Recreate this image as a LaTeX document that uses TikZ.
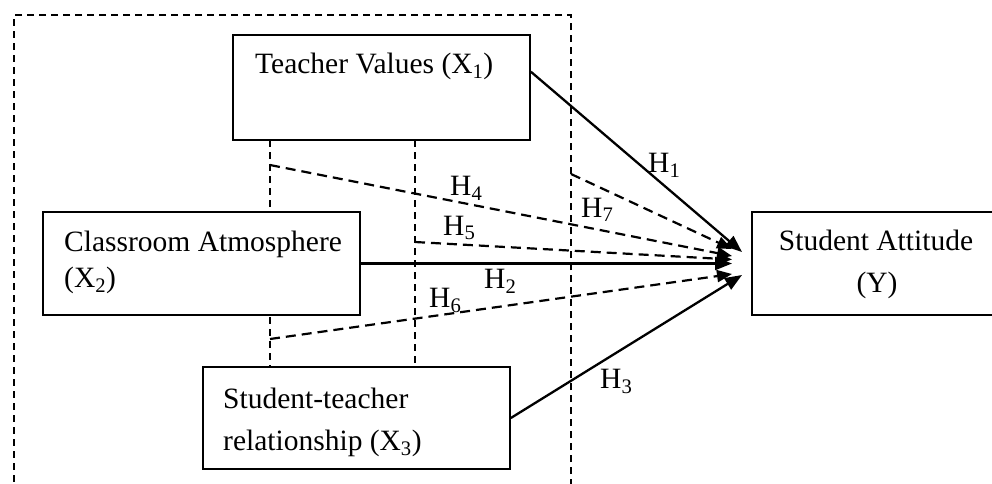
\documentclass[tikz,border=0pt]{standalone}
\usepackage{fontspec}
\setmainfont{Liberation Serif}
\usetikzlibrary{arrows.meta,calc}
\begin{document}
\begin{tikzpicture}[x=1pt,y=-1pt,
  box/.style={draw, line width=1.7pt, inner sep=0pt, fill=white},
  grpbox/.style={draw, line width=1.2pt, dash pattern=on 7pt off 5pt, inner sep=0pt},
  txt/.style={font=\fontsize{29.5}{34}\selectfont, inner sep=0pt, anchor=base west},
  lbl/.style={font=\fontsize{29.5}{34}\selectfont, inner sep=0pt, anchor=base west},
  solidarrow/.style={line width=2.3pt, -{Triangle[length=17pt,width=13pt]}},
  dasharrow/.style={line width=2.2pt, dash pattern=on 10pt off 6pt, -{Triangle[length=15pt,width=12pt]}},
  vline/.style={line width=1.2pt, dash pattern=on 7pt off 5pt}]
\useasboundingbox (0,0) rectangle (992,483);

% outer dashed frame
\node[grpbox, minimum width=557pt, minimum height=490pt] (grp) at (292.5,260) {};

% vertical dashed lines
\coordinate (v1a) at (270,140);
\coordinate (v1b) at (270,209);
\coordinate (v1c) at (270,305);
\coordinate (v1d) at (270,367);
\coordinate (v2a) at (415,140);
\coordinate (v2b) at (415,367);
\draw[vline] (v1a) -- (v1b);
\draw[vline] (v1c) -- (v1d);
\draw[vline] (v2a) -- (v2b);

% boxes
\node[box, minimum width=297pt, minimum height=105pt] (tv) at (381.5,87.5) {};
\node[box, minimum width=317pt, minimum height=103pt] (ca) at (201.5,263.5) {};
\node[box, minimum width=307pt, minimum height=102pt] (st) at (356.5,418) {};
\node[box, minimum width=248pt, minimum height=103pt] (sa) at (876,263.5) {};

% box texts
\node[txt] (tvt) at (255,73) {Teacher Values (X\textsubscript{1})};
\node[txt] (cat1) at (64,251) {Classroom Atmosphere};
\node[txt] (cat2) at (64,287) {(X\textsubscript{2})};
\node[txt] (stt1) at (223,408) {Student-teacher};
\node[txt] (stt2) at (223,450) {relationship (X\textsubscript{3})};
\node[txt, anchor=base] (sat1) at (876,250) {Student Attitude};
\node[txt, anchor=base] (sat2) at (877,292) {(Y)};

% start and end points
\coordinate (h1s) at ($(tv.north east)!0.352!(tv.south east)$);
\coordinate (h4s) at (270,165);
\coordinate (h5s) at (415,242);
\coordinate (h6s) at (270,339);
\coordinate (h7s) at (571,174);
\coordinate (t1) at (742,252);
\coordinate (t7) at (732,249);
\coordinate (t4) at (732,256);
\coordinate (t5) at (732,259.5);
\coordinate (t2) at (732,263.5);
\coordinate (t6) at (732,274);
\coordinate (t3) at (742,275);

% connectors
\draw[solidarrow] (h1s) -- (t1);
\draw[solidarrow] (ca.east) -- (t2);
\draw[solidarrow] (st.east) -- (t3);
\draw[dasharrow] (h4s) -- (t4);
\draw[dasharrow] (h5s) -- (t5);
\draw[dasharrow] (h6s) -- (t6);
\draw[dasharrow] (h7s) -- (t7);

% labels
\node[lbl] (lh1) at (648,172) {H\textsubscript{1}};
\node[lbl] (lh7) at (581,217) {H\textsubscript{7}};
\node[lbl] (lh4) at (450,195) {H\textsubscript{4}};
\node[lbl] (lh5) at (443,235) {H\textsubscript{5}};
\node[lbl] (lh2) at (484,288) {H\textsubscript{2}};
\node[lbl] (lh6) at (429,307) {H\textsubscript{6}};
\node[lbl] (lh3) at (600,388) {H\textsubscript{3}};
\end{tikzpicture}
\end{document}
